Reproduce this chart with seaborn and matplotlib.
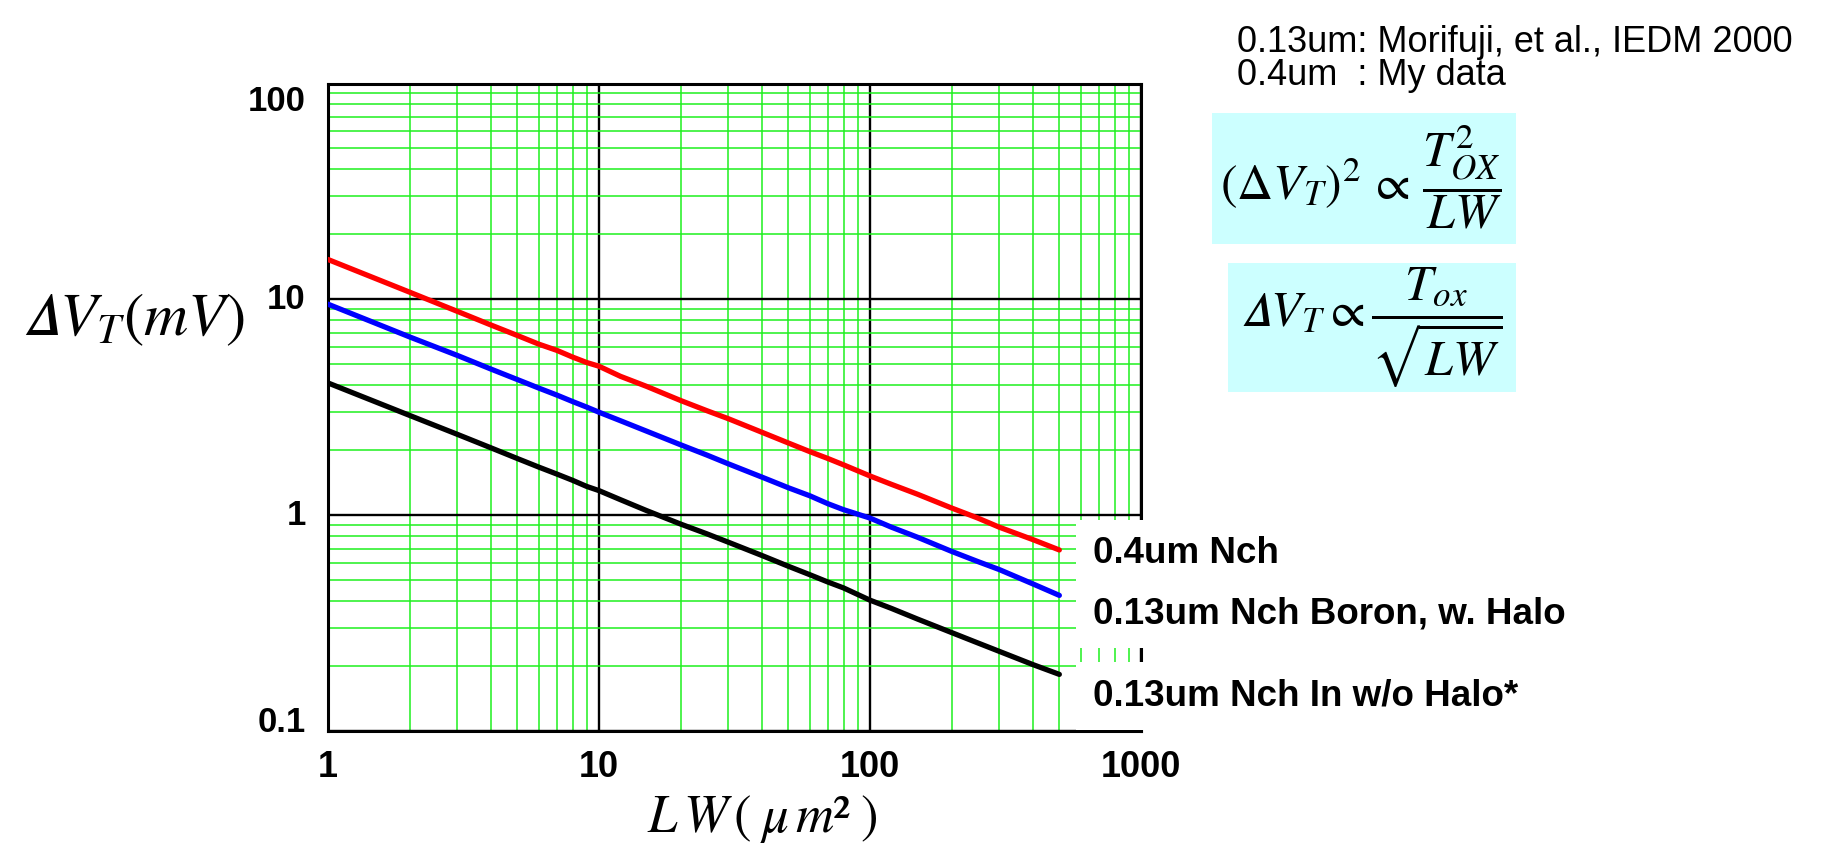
import numpy as np
import pandas as pd
import matplotlib
matplotlib.use("Agg")
import matplotlib.pyplot as plt
from matplotlib.patches import Rectangle
import seaborn as sns

# Threshold-voltage mismatch versus gate area (L x W)
lw_area = [1, 2, 3, 4, 5, 6, 7, 8, 9, 10, 12, 15, 20, 25, 30, 40, 50, 60,
           70, 80, 100, 120, 150, 200, 250, 300, 400, 500]
dvt_04um = [15.3, 10.8, 8.8, 7.6, 6.8, 6.2, 5.8, 5.4, 5.1, 4.9, 4.4, 3.95,
            3.4, 3.05, 2.8, 2.42, 2.16, 1.97, 1.83, 1.71, 1.52, 1.39, 1.25,
            1.08, 0.97, 0.88, 0.77, 0.69]
dvt_013_boron = [9.5, 6.7, 5.5, 4.75, 4.25, 3.88, 3.6, 3.36, 3.17, 3.0, 2.74,
                 2.45, 2.12, 1.9, 1.73, 1.5, 1.34, 1.23, 1.13, 1.06, 0.97,
                 0.88, 0.79, 0.68, 0.61, 0.56, 0.48, 0.425]
dvt_013_indium = [4.1, 2.9, 2.37, 2.05, 1.83, 1.67, 1.55, 1.45, 1.36, 1.3,
                  1.18, 1.05, 0.91, 0.82, 0.75, 0.65, 0.58, 0.53, 0.49, 0.46,
                  0.404, 0.37, 0.33, 0.286, 0.256, 0.234, 0.203, 0.183]

series_names = ["0.4um Nch", "0.13um Nch Boron, w. Halo", "0.13um Nch In w/o Halo*"]
series_colors = ["#ff0000", "#0000ff", "#000000"]
x_ticks = [1, 10, 100, 1000]
x_ticklabels = ["1", "10", "100", "1000"]
y_ticks = [0.1, 1, 10, 100]
y_ticklabels = ["0.1", "1", "10", "100"]

df = pd.concat([
    pd.DataFrame({"LW": lw_area, "dVT": vals, "device": name})
    for name, vals in zip(series_names, [dvt_04um, dvt_013_boron, dvt_013_indium])
], ignore_index=True)

sns.set_theme(style="white")
plt.rcParams["font.family"] = ["Liberation Sans", "DejaVu Sans"]
plt.rcParams["mathtext.fontset"] = "stix"
for key in ["text.color", "axes.labelcolor", "xtick.color", "ytick.color"]:
    plt.rcParams[key] = "black"

fig = plt.figure(figsize=(18.24, 8.46), dpi=100)
ax = fig.add_axes([0.1798, 0.1359, 0.4457, 0.7654])

sns.lineplot(data=df, x="LW", y="dVT", hue="device", hue_order=series_names,
             palette=series_colors, linewidth=3.8, legend=False, ax=ax,
             zorder=3, solid_capstyle="round")

ax.set_xscale("log")
ax.set_yscale("log")
ax.set_xlim(1, 1000)
ax.set_ylim(0.1, 100)

# log-paper style grid: black decades, green subdivisions
ax.set_axisbelow(True)
ax.grid(which="minor", color="#1ef01e", linewidth=1.1, zorder=1)
ax.grid(which="major", color="black", linewidth=1.7, zorder=2)
for sp in ax.spines.values():
    sp.set_color("black")
    sp.set_linewidth(2.2)
    sp.set_visible(True)

ax.set_xticks(x_ticks, labels=x_ticklabels)
ax.tick_params(axis="x", which="both", length=0, pad=14, labelsize=26)
for t in ax.get_xticklabels():
    t.set_fontweight("bold")

# y tick labels drawn as annotations so the end labels sit inside the frame
ax.set_yticks(y_ticks, labels=[""] * len(y_ticks))
ax.tick_params(axis="y", which="both", length=0)
y_shift = {0.1: 6, 100: -13}
for val, lab in zip(y_ticks, y_ticklabels):
    ax.annotate(lab, xy=(0, val), xycoords=("axes fraction", "data"),
                xytext=(-16, y_shift.get(val, 0)), textcoords="offset points",
                ha="right", va="center", fontsize=25, fontweight="bold")

# italic capital delta (math italic code point)
DELTA_IT = "\U0001D6E5"

ax.set_xlabel(r"$L\,W\,(\;\mu\,m²\;)$", fontsize=38, va="bottom")
ax.xaxis.set_label_coords(0.534, -0.1755)
ax.set_ylabel(r"$" + DELTA_IT + r"V_T(mV)$", fontsize=44, rotation=0,
              ha="center", va="center")
ax.yaxis.set_label_coords(-0.239, 0.635)

# curve labels on white patches at the right edge of the frame
label_y = [0.2734, 0.1807, 0.054]
for name, yy in zip(series_names, label_y):
    ax.text(0.941, yy, name, transform=ax.transAxes, ha="left", va="center",
            fontsize=26.5, fontweight="bold", clip_on=False, zorder=10,
            bbox=dict(boxstyle="square,pad=0.45", facecolor="white",
                      edgecolor="none"))

# source notes
fig.text(0.678, 1 - 59 / 846,
         "0.13um: Morifuji, et al., IEDM 2000\n0.4um  : My data",
         fontsize=26, ha="left", va="center", linespacing=0.95)

# scaling-law boxes
box_face = "#ccffff"
fig.add_artist(Rectangle((0.6645, 0.7116), 0.1667, 0.1548,
                         transform=fig.transFigure, facecolor=box_face,
                         edgecolor="none", zorder=1))
fig.add_artist(Rectangle((0.6732, 0.5366), 0.1579, 0.1525,
                         transform=fig.transFigure, facecolor=box_face,
                         edgecolor="none", zorder=1))
fig.text(0.7462, 0.7896,
         r"$\left(\Delta V_T\right)^2 \, \propto \, \dfrac{T_{OX}^2}{LW}$",
         fontsize=36, ha="center", va="center", zorder=2)
fig.text(0.7517, 0.6123,
         r"$" + DELTA_IT + r"V_T \propto \dfrac{T_{ox}}{\sqrt{LW}}$",
         fontsize=36, ha="center", va="center", zorder=2)

fig.savefig("out.png", dpi=100, facecolor="white")
